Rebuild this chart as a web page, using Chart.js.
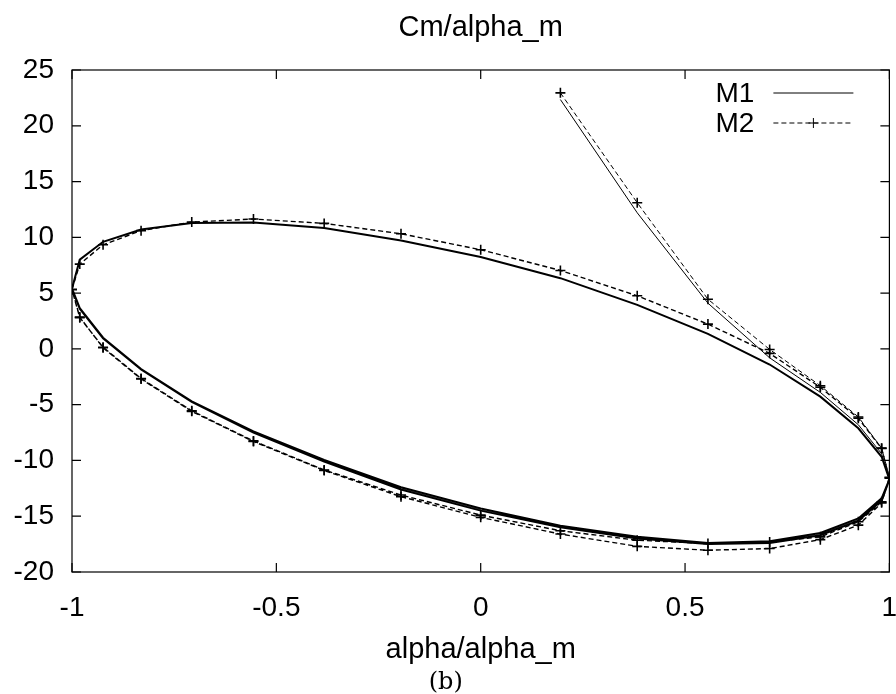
<!DOCTYPE html>
<html>
<head>
<meta charset="utf-8">
<script src="https://cdn.jsdelivr.net/npm/chart.js@4.4.1/dist/chart.umd.min.js"></script>
<style>
  html, body { margin: 0; padding: 0; background: #fff; }
  canvas { display: block; }
</style>
</head>
<body>
<canvas id="cmChart" width="896" height="694"></canvas>
<script>
// alpha/alpha_m sample points (same for both models)
const alphaX = [
  0.195, 0.383, 0.556, 0.707, 0.831, 0.924, 0.981, 1,
  0.981, 0.924, 0.831, 0.707, 0.556, 0.383, 0.195, 0, -0.195, -0.383, -0.556, -0.707, -0.831, -0.924, -0.981, -1,
  -0.981, -0.924, -0.831, -0.707, -0.556, -0.383, -0.195, 0, 0.195, 0.383, 0.556, 0.707, 0.831, 0.924, 0.981, 1,
  0.981, 0.924, 0.831, 0.707, 0.556, 0.383, 0.195, 0, -0.195, -0.383, -0.556, -0.707, -0.831, -0.924, -0.981, -1
];
const m1Cm = [
  22.35, 12.2, 4.1, -0.8, -3.9, -6.8, -9.4, -11.7,
  -13.6, -15.4, -16.7, -17.4, -17.5, -17.0, -16.0, -14.5, -12.6, -10.1, -7.5, -4.75, -1.85, 0.95, 3.6, 5.4,
  8.0, 9.6, 10.7, 11.28, 11.34, 10.83, 9.72, 8.23, 6.34, 3.95, 1.35, -1.4, -4.28, -7.12, -9.67, -11.7,
  -13.4, -15.2, -16.5, -17.25, -17.4, -16.85, -15.85, -14.3, -12.4, -9.96, -7.4, -4.7, -1.8, 1.0, 3.65, 5.4
];
const m2Cm = [
  22.95, 13.1, 4.45, -0.05, -3.3, -6.1, -8.9, -11.5,
  -13.8, -15.8, -17.1, -17.9, -18.05, -17.7, -16.6, -15.1, -13.25, -10.9, -8.3, -5.6, -2.7, 0.1, 2.85, 5.35,
  7.6, 9.33, 10.6, 11.37, 11.64, 11.25, 10.32, 8.89, 7.03, 4.76, 2.22, -0.4, -3.44, -6.22, -8.92, -11.6,
  -13.7, -15.5, -16.85, -17.3, -17.45, -17.15, -16.3, -14.9, -13.1, -10.85, -8.25, -5.55, -2.65, 0.15, 2.8, 5.3
];
const xTicks = [-1, -0.5, 0, 0.5, 1];
const yTicks = [-20, -15, -10, -5, 0, 5, 10, 15, 20, 25];
const seriesNames = ['M1', 'M2'];
const titleText = 'Cm/alpha_m';
const xLabel = 'alpha/alpha_m';
const captionText = '(b)';

const sans = '"Liberation Sans", Arial, sans-serif';
const transientEnd = 7; // first segments (start-up) are drawn thin

function toPoints(ys) {
  return alphaX.map((x, i) => ({ x: x, y: ys[i] }));
}

// gnuplot style frame: box, inward ticks on all sides, title, labels, key
const frame = {
  id: 'frame',
  afterDraw(chart) {
    const ctx = chart.ctx;
    const a = chart.chartArea;
    const xs = chart.scales.x, ys = chart.scales.y;
    const tl = 9;
    ctx.save();
    ctx.strokeStyle = '#000';
    ctx.lineWidth = 1.2;
    ctx.strokeRect(a.left, a.top, a.right - a.left, a.bottom - a.top);
    ctx.beginPath();
    xTicks.forEach(v => {
      const px = xs.getPixelForValue(v);
      ctx.moveTo(px, a.bottom); ctx.lineTo(px, a.bottom - tl);
      ctx.moveTo(px, a.top); ctx.lineTo(px, a.top + tl);
    });
    yTicks.forEach(v => {
      const py = ys.getPixelForValue(v);
      ctx.moveTo(a.left, py); ctx.lineTo(a.left + tl, py);
      ctx.moveTo(a.right, py); ctx.lineTo(a.right - tl, py);
    });
    ctx.stroke();

    ctx.fillStyle = '#000';
    ctx.textAlign = 'center';
    ctx.textBaseline = 'alphabetic';
    ctx.font = '29px ' + sans;
    const cx = (a.left + a.right) / 2;
    ctx.fillText(titleText, cx, 36);
    ctx.fillText(xLabel, cx, 658);
    ctx.font = '24px "DejaVu Serif", serif';
    ctx.fillText(captionText, cx - 35, 689);

    // key
    ctx.font = '28px ' + sans;
    ctx.textAlign = 'right';
    ctx.textBaseline = 'middle';
    const x0 = a.right - 116, x1 = a.right - 36;
    seriesNames.forEach((name, i) => {
      const y = a.top + 23 + i * 30;
      ctx.fillText(name, a.right - 135, y + 1);
      ctx.beginPath();
      ctx.lineWidth = 1;
      ctx.setLineDash(i === 0 ? [] : [5, 3]);
      ctx.moveTo(x0, y); ctx.lineTo(x1, y);
      ctx.stroke();
      ctx.setLineDash([]);
      if (i === 1) {
        const mx = (x0 + x1) / 2;
        ctx.beginPath();
        ctx.moveTo(mx - 5, y); ctx.lineTo(mx + 5, y);
        ctx.moveTo(mx, y - 5); ctx.lineTo(mx, y + 5);
        ctx.stroke();
      }
    });
    ctx.restore();
  }
};

const ctx = document.getElementById('cmChart').getContext('2d');
new Chart(ctx, {
  type: 'scatter',
  data: {
    datasets: [{
      label: seriesNames[0],
      data: toPoints(m1Cm),
      showLine: true,
      borderColor: '#000',
      borderWidth: 2,
      segment: { borderWidth: c => c.p0DataIndex < transientEnd ? 1 : 2 },
      pointRadius: 0,
      tension: 0
    }, {
      label: seriesNames[1],
      data: toPoints(m2Cm),
      showLine: true,
      borderColor: '#000',
      borderWidth: 1.4,
      segment: { borderWidth: c => c.p0DataIndex < transientEnd ? 1 : 1.4 },
      borderDash: [5, 3],
      pointStyle: 'cross',
      pointRadius: 5,
      pointBorderWidth: 1.6,
      pointBorderColor: '#000',
      tension: 0
    }]
  },
  options: {
    responsive: false,
    devicePixelRatio: 1,
    animation: false,
    layout: { padding: { top: 70, right: 5, bottom: 0, left: 0 } },
    plugins: {
      legend: { display: false },
      title: { display: false },
      tooltip: { enabled: false }
    },
    scales: {
      x: {
        type: 'linear',
        min: -1, max: 1,
        afterBuildTicks: s => { s.ticks = xTicks.map(v => ({ value: v })); },
        afterFit: s => { s.height = 122; s.paddingLeft = 0; s.paddingRight = 0; },
        grid: { display: false, drawTicks: false },
        border: { display: false },
        ticks: { color: '#000', font: { family: sans, size: 28 }, padding: 19, maxRotation: 0,
                 callback: v => String(v) }
      },
      y: {
        type: 'linear',
        min: -20, max: 25,
        afterBuildTicks: s => { s.ticks = yTicks.map(v => ({ value: v })); },
        afterFit: s => { s.width = 72; s.paddingTop = 0; s.paddingBottom = 0; },
        grid: { display: false, drawTicks: false },
        border: { display: false },
        ticks: { color: '#000', font: { family: sans, size: 28 }, padding: 18,
                 callback: v => String(v) }
      }
    }
  },
  plugins: [frame]
});
</script>
</body>
</html>
